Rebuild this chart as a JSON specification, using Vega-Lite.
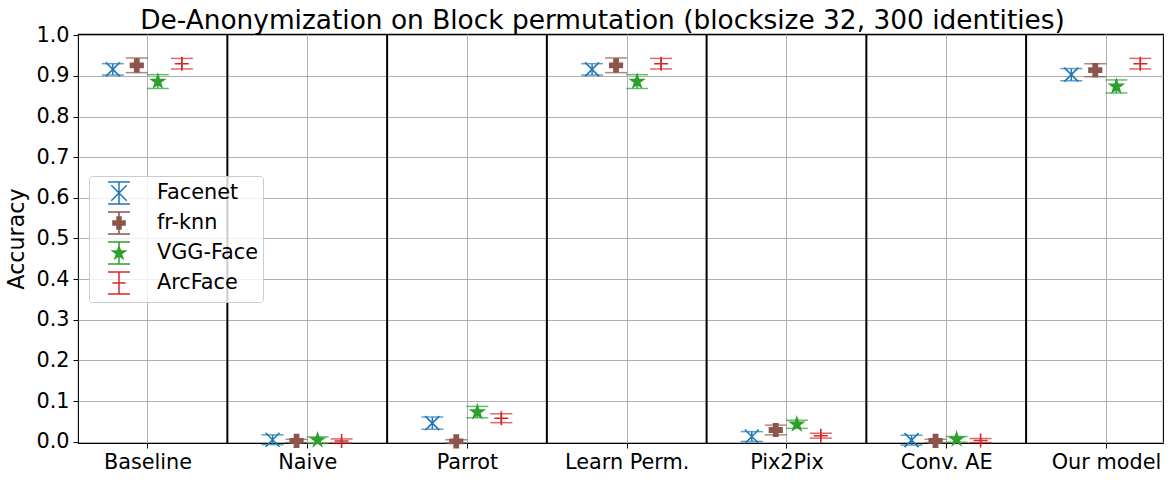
{
  "$schema": "https://vega.github.io/schema/vega-lite/v6.json",
  "width": 1085,
  "height": 409,
  "autosize": {"type": "none"},
  "padding": {"left": 78, "top": 34, "right": 10, "bottom": 41},
  "background": "white",
  "config": {
    "font": "DejaVu Sans",
    "view": {"stroke": "black", "strokeWidth": 1.1},
    "axis": {
      "labelFont": "DejaVu Sans",
      "labelFontSize": 20.8,
      "labelColor": "black",
      "tickColor": "black",
      "tickSize": 5,
      "tickWidth": 1,
      "labelPadding": 4,
      "domain": false,
      "gridColor": "#b0b0b0",
      "gridWidth": 1,
      "titleFont": "DejaVu Sans",
      "titleFontSize": 22.2,
      "titleFontWeight": "normal",
      "titleColor": "black"
    },
    "legend": {
      "orient": "none",
      "legendX": 11,
      "legendY": 142,
      "labelFont": "DejaVu Sans",
      "labelFontSize": 20.8,
      "labelColor": "black",
      "symbolSize": 484,
      "symbolStrokeWidth": 1.5,
      "symbolOpacity": 1,
      "rowPadding": 2,
      "labelOffset": 26,
      "symbolOffset": 13,
      "padding": 5,
      "fillColor": "rgba(255,255,255,0.8)",
      "strokeColor": "#cccccc",
      "cornerRadius": 3
    }
  },
  "title": {
    "text": "De-Anonymization on Block permutation (blocksize 32, 300 identities)",
    "font": "DejaVu Sans",
    "fontSize": 26.4,
    "fontWeight": "normal",
    "color": "black",
    "anchor": "middle",
    "baseline": "alphabetic",
    "offset": 0,
    "dy": 31,
    "dx": -18
  },
  "data": {
    "values": [
      {"method": "Baseline", "model": "Facenet", "acc": 0.916, "err": 0.014},
      {"method": "Baseline", "model": "fr-knn", "acc": 0.926, "err": 0.018},
      {"method": "Baseline", "model": "VGG-Face", "acc": 0.886, "err": 0.017},
      {"method": "Baseline", "model": "ArcFace", "acc": 0.930, "err": 0.013},
      {"method": "Naive", "model": "Facenet", "acc": 0.005, "err": 0.012},
      {"method": "Naive", "model": "fr-knn", "acc": 0.002, "err": 0.004},
      {"method": "Naive", "model": "VGG-Face", "acc": 0.004, "err": 0.008},
      {"method": "Naive", "model": "ArcFace", "acc": 0.002, "err": 0.005},
      {"method": "Parrot", "model": "Facenet", "acc": 0.046, "err": 0.015},
      {"method": "Parrot", "model": "fr-knn", "acc": 0.001, "err": 0.004},
      {"method": "Parrot", "model": "VGG-Face", "acc": 0.073, "err": 0.014},
      {"method": "Parrot", "model": "ArcFace", "acc": 0.058, "err": 0.011},
      {"method": "Learn Perm.", "model": "Facenet", "acc": 0.916, "err": 0.014},
      {"method": "Learn Perm.", "model": "fr-knn", "acc": 0.926, "err": 0.018},
      {"method": "Learn Perm.", "model": "VGG-Face", "acc": 0.886, "err": 0.017},
      {"method": "Learn Perm.", "model": "ArcFace", "acc": 0.930, "err": 0.013},
      {"method": "Pix2Pix", "model": "Facenet", "acc": 0.013, "err": 0.012},
      {"method": "Pix2Pix", "model": "fr-knn", "acc": 0.029, "err": 0.012},
      {"method": "Pix2Pix", "model": "VGG-Face", "acc": 0.043, "err": 0.010},
      {"method": "Pix2Pix", "model": "ArcFace", "acc": 0.015, "err": 0.006},
      {"method": "Conv. AE", "model": "Facenet", "acc": 0.004, "err": 0.012},
      {"method": "Conv. AE", "model": "fr-knn", "acc": 0.002, "err": 0.004},
      {"method": "Conv. AE", "model": "VGG-Face", "acc": 0.006, "err": 0.007},
      {"method": "Conv. AE", "model": "ArcFace", "acc": 0.003, "err": 0.005},
      {"method": "Our model", "model": "Facenet", "acc": 0.903, "err": 0.015},
      {"method": "Our model", "model": "fr-knn", "acc": 0.914, "err": 0.016},
      {"method": "Our model", "model": "VGG-Face", "acc": 0.874, "err": 0.016},
      {"method": "Our model", "model": "ArcFace", "acc": 0.930, "err": 0.013}
    ]
  },
  "transform": [
    {"calculate": "indexof(['Baseline','Naive','Parrot','Learn Perm.','Pix2Pix','Conv. AE','Our model'], datum.method)", "as": "gi"},
    {"calculate": "datum.gi + (datum.model == 'Facenet' ? -0.217 : datum.model == 'fr-knn' ? -0.067 : datum.model == 'VGG-Face' ? 0.065 : 0.215)", "as": "pos"}
  ],
  "layer": [
    {
      "transform": [
        {"aggregate": [{"op": "max", "field": "gi", "as": "g"}], "groupby": ["method"]},
        {"filter": "datum.g > 0"},
        {"calculate": "datum.g - 0.5", "as": "b"}
      ],
      "mark": {"type": "rule", "color": "black", "strokeWidth": 2},
      "encoding": {
        "x": {"field": "b", "type": "quantitative", "title": null,
              "scale": {"domain": [-0.435, 6.357], "nice": false, "zero": false}}
      }
    },
    {
      "mark": {"type": "errorbar", "ticks": true, "size": 22, "thickness": 1.5},
      "encoding": {
        "x": {"field": "pos", "type": "quantitative", "title": null,
              "scale": {"domain": [-0.435, 6.357], "nice": false, "zero": false},
              "axis": {"values": [0, 1, 2, 3, 4, 5, 6], "grid": true,
                       "labelExpr": "['Baseline','Naive','Parrot','Learn Perm.','Pix2Pix','Conv. AE','Our model'][datum.value]",
                       "labelFlush": false, "labelOverlap": false}},
        "y": {"field": "acc", "type": "quantitative", "title": "Accuracy",
              "scale": {"domain": [-0.003, 1.003], "nice": false, "zero": false},
              "axis": {"values": [0, 0.1, 0.2, 0.3, 0.4, 0.5, 0.6, 0.7, 0.8, 0.9, 1.0], "format": ".1f", "grid": true, "titlePadding": 7}},
        "yError": {"field": "err"},
        "color": {"field": "model", "type": "nominal", "legend": null,
                  "scale": {"domain": ["Facenet", "fr-knn", "VGG-Face", "ArcFace"], "range": ["#1f77b4", "#8c564b", "#2ca02c", "#d62728"]}}
      }
    },
    {
      "mark": {"type": "point", "filled": true, "opacity": 1, "strokeWidth": 1.6, "size": 196},
      "encoding": {
        "x": {"field": "pos", "type": "quantitative", "title": null,
              "scale": {"domain": [-0.435, 6.357], "nice": false, "zero": false}},
        "y": {"field": "acc", "type": "quantitative", "title": "Accuracy",
              "scale": {"domain": [-0.003, 1.003], "nice": false, "zero": false}},
        "color": {"field": "model", "type": "nominal", "legend": null,
                  "scale": {"domain": ["Facenet", "fr-knn", "VGG-Face", "ArcFace"], "range": ["#1f77b4", "#8c564b", "#2ca02c", "#d62728"]}},
        "stroke": {"field": "model", "type": "nominal", "legend": null,
                  "scale": {"domain": ["Facenet", "fr-knn", "VGG-Face", "ArcFace"], "range": ["#1f77b4", "#8c564b", "#2ca02c", "#d62728"]}},
        "shape": {"field": "model", "type": "nominal", "legend": null,
                  "scale": {"domain": ["Facenet", "fr-knn", "VGG-Face", "ArcFace"],
                            "range": [
                              "M-1,-1L1,1M-1,1L1,-1",
                              "M-0.3,-0.9H0.3V-0.3H0.9V0.3H0.3V0.9H-0.3V0.3H-0.9V-0.3H-0.3Z",
                              "M0,-0.95L0.213,-0.294L0.903,-0.294L0.345,0.112L0.559,0.769L0,0.363L-0.559,0.769L-0.345,0.112L-0.903,-0.294L-0.213,-0.294Z",
                              "M-1,0H1M0,-1V1"
                            ]}}
      }
    },
    {
      "transform": [{"filter": "false"}],
      "mark": {"type": "point", "filled": true, "opacity": 1, "strokeWidth": 1.5},
      "encoding": {
        "color": {"field": "model", "type": "nominal", "title": null,
                  "scale": {"domain": ["Facenet", "fr-knn", "VGG-Face", "ArcFace"], "range": ["#1f77b4", "#8c564b", "#2ca02c", "#d62728"]}},
        "stroke": {"field": "model", "type": "nominal", "title": null,
                  "scale": {"domain": ["Facenet", "fr-knn", "VGG-Face", "ArcFace"], "range": ["#1f77b4", "#8c564b", "#2ca02c", "#d62728"]}},
        "shape": {"field": "model", "type": "nominal", "title": null,
                  "scale": {"domain": ["Facenet", "fr-knn", "VGG-Face", "ArcFace"],
                            "range": [
                              "M-1,-1H1M-1,1H1M0,-1V1M-0.7,-0.7L0.7,0.7M-0.7,0.7L0.7,-0.7",
                              "M-1,-1H1M-1,1H1M0,-1V1M-0.18,-0.55H0.18V-0.18H0.55V0.18H0.18V0.55H-0.18V0.18H-0.55V-0.18H-0.18Z",
                              "M-1,-1H1M-1,1H1M0,-1V1M0,-0.6L0.135,-0.185L0.571,-0.185L0.218,0.071L0.353,0.485L0,0.229L-0.353,0.485L-0.218,0.071L-0.571,-0.185L-0.135,-0.185Z",
                              "M-1,-1H1M-1,1H1M0,-1V1M-0.6,0H0.6"
                            ]}}
      }
    }
  ],
  "resolve": {"scale": {"color": "independent", "stroke": "independent", "shape": "independent"}}
}
